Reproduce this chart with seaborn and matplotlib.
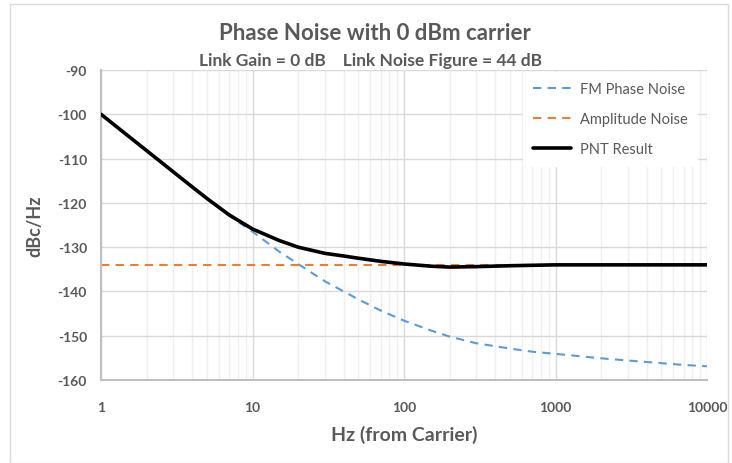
import pandas as pd
import matplotlib.pyplot as plt
import seaborn as sns
from matplotlib.patches import Rectangle
from matplotlib.ticker import FixedLocator, NullFormatter

# --- Data ---
freq_hz = [1, 1.5, 2, 3, 4, 5, 7, 10, 15, 20, 30, 40, 50, 70, 100, 150, 200,
           300, 500, 700, 1000, 2000, 3000, 5000, 7000, 10000]
fm_phase_noise = [-100, -104.8, -108.2, -113.0, -116.4, -119.0, -122.9, -126.5,
                  -131.0, -133.8, -137.7, -140.0, -141.8, -144.3, -146.6,
                  -148.8, -150.2, -151.7, -152.9, -153.6, -154.1, -155.1,
                  -155.6, -156.2, -156.6, -156.9]
amplitude_noise = [-134] * len(freq_hz)
pnt_result = [-100, -104.8, -108.2, -113.0, -116.4, -119.0, -122.7, -125.9,
              -128.5, -130.0, -131.4, -132.0, -132.5, -133.2, -133.8,
              -134.3, -134.5, -134.4, -134.2, -134.1, -134.0, -134.0,
              -134.0, -134.0, -134.0, -134.0]

x_ticks = [1, 10, 100, 1000, 10000]
x_tick_labels = ['1', '10', '100', '1000', '10000']
y_ticks = [-160, -150, -140, -130, -120, -110, -100, -90]

TEXT = '#595959'
GRID = '#d9d9d9'
MINOR_GRID = '#efefef'
W, H = 732, 464

sns.set_style('white')
plt.rcParams['font.family'] = ['Lato', 'DejaVu Sans']
plt.rcParams['axes.unicode_minus'] = False

df = pd.DataFrame({
    'freq': freq_hz * 3,
    'value': fm_phase_noise + amplitude_noise + pnt_result,
    'series': (['FM Phase Noise'] * len(freq_hz) + ['Amplitude Noise'] * len(freq_hz)
               + ['PNT Result'] * len(freq_hz)),
})

fig = plt.figure(figsize=(W / 100, H / 100), dpi=100)
ax = fig.add_axes([101 / W, 1 - 381 / H, 606 / W, 310 / H])

styles = {
    'FM Phase Noise': dict(color='#5b9bd5', lw=1.5, ls=(0, (4, 3))),
    'Amplitude Noise': dict(color='#ed7d31', lw=1.5, ls=(0, (4, 3))),
    'PNT Result': dict(color='black', lw=2.6, ls='-'),
}
for name, st in styles.items():
    sub = df[df['series'] == name]
    sns.lineplot(data=sub, x='freq', y='value', ax=ax, label=name,
                 color=st['color'], linewidth=st['lw'], linestyle=st['ls'],
                 zorder=3 if name == 'PNT Result' else 2)

ax.set_xscale('log')
ax.set_xlim(1, 10000)
ax.set_ylim(-160, -90)

ax.set_xticks(x_ticks)
ax.set_xticklabels(x_tick_labels)
minor = [m * 10 ** e for e in range(4) for m in range(2, 10)]
ax.xaxis.set_minor_locator(FixedLocator(minor))
ax.xaxis.set_minor_formatter(NullFormatter())
ax.set_yticks(y_ticks)

ax.grid(True, which='major', color=GRID, lw=1.0, zorder=0)
ax.grid(True, which='minor', axis='x', color=MINOR_GRID, lw=1.0, zorder=0)
ax.set_axisbelow(True)

for side in ['top', 'right']:
    ax.spines[side].set_visible(False)
for side in ['left', 'bottom']:
    ax.spines[side].set_color('#bfbfbf')
    ax.spines[side].set_linewidth(1.5)

ax.tick_params(axis='x', which='both', direction='out', length=5, color='#bfbfbf',
               labelsize=10, labelcolor=TEXT, pad=10)
ax.tick_params(axis='y', which='major', direction='out', length=5, color='#bfbfbf',
               labelsize=10, labelcolor=TEXT, pad=5)
for lbl in ax.get_xticklabels() + ax.get_yticklabels():
    lbl.set_fontweight('bold')

ax.set_xlabel('Hz (from Carrier)', fontsize=14, fontweight='bold', color=TEXT, labelpad=9)
ax.set_ylabel('dBc/Hz', fontsize=13, fontweight='bold', color=TEXT, labelpad=10)

leg = ax.legend(loc='upper left', frameon=True, fontsize=10.5, labelspacing=1.1,
                handlelength=2.6, handletextpad=0.6, borderpad=0.4, borderaxespad=0,
                bbox_to_anchor=((527 - 101) / 606, 1 - (77 - 71) / 310))
leg.get_frame().set_edgecolor('white')
leg.get_frame().set_facecolor('white')
leg.get_frame().set_alpha(1.0)
leg.get_frame().set_boxstyle('square')
for t in leg.get_texts():
    t.set_color(TEXT)

fig.text(375 / W, 1 - 33 / H, 'Phase Noise with 0 dBm carrier', ha='center', va='center',
         fontsize=16, fontweight='bold', color=TEXT)
fig.text(371 / W, 1 - 61 / H, 'Link Gain = 0 dB    Link Noise Figure = 44 dB',
         ha='center', va='center', fontsize=12.5, fontweight='bold', color=TEXT)

fig.patches.append(Rectangle((9.5 / W, 0.0), 718 / W, 1 - 4.5 / H, transform=fig.transFigure,
                             fill=False, edgecolor='#d9d9d9', lw=1.0))

fig.savefig('out.png', dpi=100, facecolor='white')
